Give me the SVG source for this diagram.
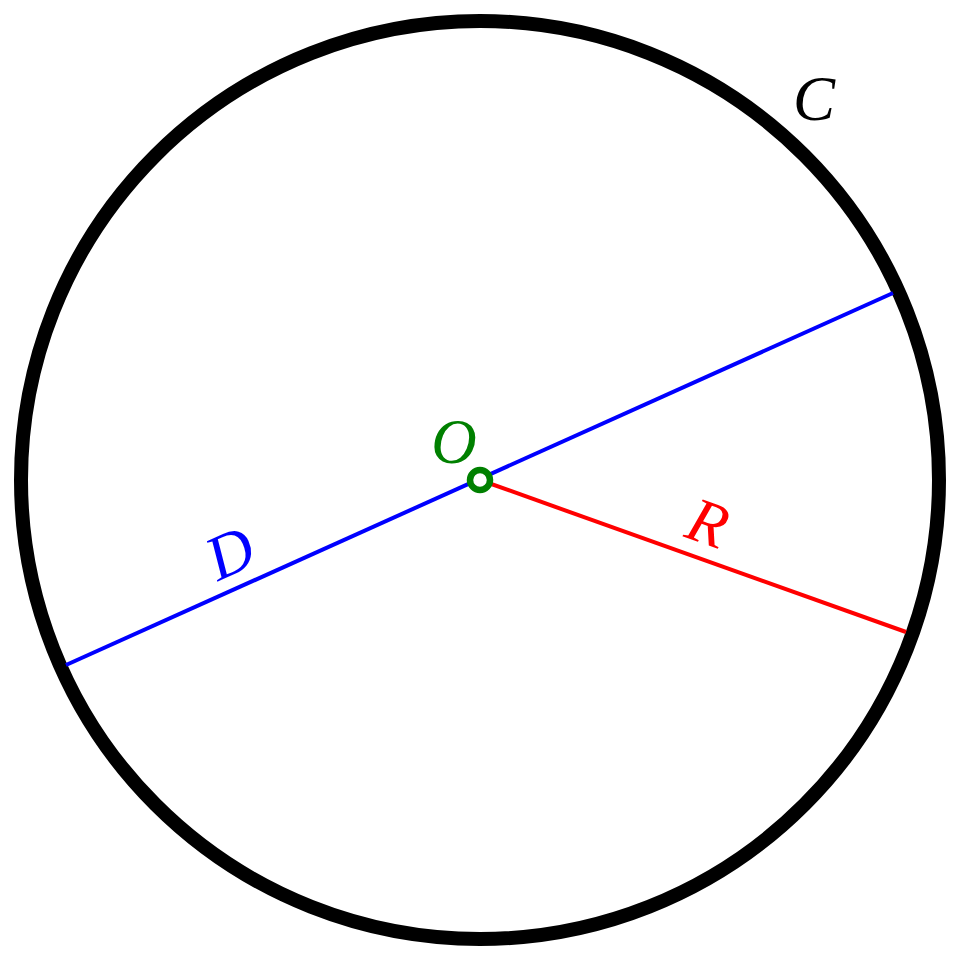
<svg xmlns="http://www.w3.org/2000/svg" width="960" height="960" viewBox="0 0 960 960">
<style>
.lbl{font-family:"Liberation Serif","Times New Roman",serif;font-style:italic;font-size:63px;text-anchor:middle}
</style>
<rect width="960" height="960" fill="#ffffff"/>
<g id="circle-C">
<circle cx="480" cy="480" r="459" fill="none" stroke="#000000" stroke-width="14"/>
<text class="lbl" x="814" y="120" fill="#000000">C</text>
</g>
<g id="connectors">
<line id="diameter-D" x1="66" y1="665" x2="893" y2="293" stroke="#0000ff" stroke-width="4"/>
<line id="radius-R" x1="480" y1="480" x2="906" y2="632" stroke="#ff0000" stroke-width="4"/>
</g>
<g id="label-D">
<text class="lbl" fill="#0000ff" transform="translate(230,553) rotate(-24.4)" x="0" y="21">D</text>
</g>
<g id="label-R">
<text class="lbl" fill="#ff0000" transform="translate(708,523) rotate(19.6)" x="0" y="21">R</text>
</g>
<g id="center-O">
<circle cx="480" cy="480" r="10" fill="#ffffff" stroke="#008000" stroke-width="6.5"/>
<text class="lbl" x="454" y="463" fill="#008000">O</text>
</g>
</svg>
